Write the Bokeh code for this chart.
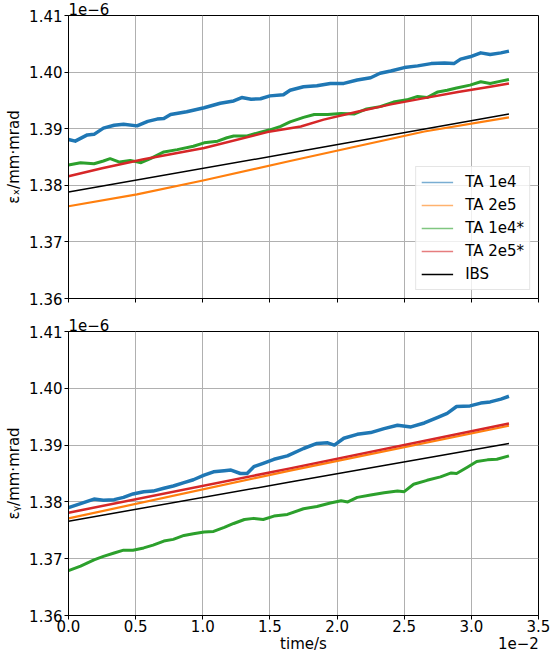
from bokeh.plotting import figure
from bokeh.models import (Range1d, FixedTicker, PrintfTickFormatter, Title, LinearAxis,
                          AllLabels, CustomLabelingPolicy, Legend, LegendItem)
from bokeh.layouts import column
from bokeh.embed import file_html
from bokeh.resources import INLINE

# ---------------- data (x in units of 1e-2 s, y in units of 1e-6 mm·mrad) ----------------
X_TICKS = [0.0, 0.5, 1.0, 1.5, 2.0, 2.5, 3.0, 3.5]
Y_TICKS = [1.36, 1.37, 1.38, 1.39, 1.40, 1.41]
SERIES_NAMES = ["TA 1e4", "TA 2e5", "TA 1e4*", "TA 2e5*", "IBS"]
SERIES_COLORS = ["#1f77b4", "#ff7f0e", "#2ca02c", "#d62728", "black"]
Y_LABELS = ["\u03b5\u2093/mm\u00b7mrad", "\u03b5\u1d67/mm\u00b7mrad"]
OFFSET_Y = "1e\u22126"
X_LABEL = "time/s"
OFFSET_X = "1e\u22122"

# --- horizontal emittance (top panel) ---
ex_ta1e4_t = [0.0, 0.05, 0.14, 0.19, 0.26, 0.34, 0.41, 0.51, 0.59, 0.66, 0.71, 0.76, 0.88,
              1.01, 1.13, 1.23, 1.29, 1.36, 1.43, 1.50, 1.60, 1.65, 1.75, 1.85, 1.95, 2.05,
              2.15, 2.25, 2.32, 2.40, 2.50, 2.60, 2.70, 2.80, 2.87, 2.92, 2.99, 3.07, 3.14,
              3.22, 3.28]
ex_ta1e4 = [1.3881, 1.3878, 1.3889, 1.3890, 1.3901, 1.3906, 1.3908, 1.3905, 1.3913, 1.3917,
            1.3918, 1.3925, 1.3930, 1.3937, 1.3945, 1.3949, 1.3955, 1.3952, 1.3953, 1.3958,
            1.3960, 1.3968, 1.3974, 1.3976, 1.3980, 1.3980, 1.3986, 1.3990, 1.3998, 1.4002,
            1.4008, 1.4011, 1.4015, 1.4016, 1.4015, 1.4023, 1.4027, 1.4034, 1.4031, 1.4034,
            1.4037]

ex_ta2e5_t = [0.0, 0.51, 1.01, 1.65, 2.15, 2.65, 3.28]
ex_ta2e5 = [1.3763, 1.3784, 1.3809, 1.3843, 1.3869, 1.3895, 1.3920]

ex_ta1e4s_t = [0.0, 0.09, 0.19, 0.26, 0.31, 0.38, 0.46, 0.54, 0.61, 0.71, 0.81, 0.93, 1.01,
               1.11, 1.18, 1.23, 1.33, 1.43, 1.50, 1.58, 1.65, 1.75, 1.83, 1.93, 2.03, 2.13,
               2.22, 2.32, 2.42, 2.52, 2.60, 2.67, 2.75, 2.82, 2.89, 2.99, 3.07, 3.14, 3.22,
               3.28]
ex_ta1e4s = [1.3836, 1.3840, 1.3838, 1.3843, 1.3847, 1.3841, 1.3844, 1.3840, 1.3847, 1.3859,
             1.3863, 1.3869, 1.3875, 1.3878, 1.3884, 1.3887, 1.3887, 1.3894, 1.3898, 1.3904,
             1.3912, 1.3920, 1.3925, 1.3925, 1.3927, 1.3926, 1.3935, 1.3939, 1.3947, 1.3951,
             1.3957, 1.3955, 1.3965, 1.3968, 1.3972, 1.3977, 1.3983, 1.3980, 1.3984, 1.3987]

ex_ta2e5s_t = [0.0, 0.25, 0.56, 1.01, 1.48, 1.73, 1.90, 2.15, 2.40, 2.65, 2.90, 3.14, 3.28]
ex_ta2e5s = [1.3816, 1.3830, 1.3846, 1.3866, 1.3894, 1.3904, 1.3916, 1.3930, 1.3943, 1.3954,
             1.3965, 1.3974, 1.3980]

ex_ibs_t = [0.0, 1.65, 3.28]
ex_ibs = [1.3788, 1.3857, 1.3926]

# --- vertical emittance (bottom panel) ---
ey_ta1e4_t = [0.0, 0.09, 0.19, 0.26, 0.34, 0.41, 0.48, 0.56, 0.63, 0.71, 0.78, 0.86, 0.93,
              1.01, 1.08, 1.16, 1.21, 1.28, 1.33, 1.38, 1.45, 1.53, 1.63, 1.75, 1.85, 1.93,
              1.98, 2.05, 2.15, 2.25, 2.35, 2.45, 2.55, 2.65, 2.75, 2.82, 2.89, 2.99, 3.07,
              3.14, 3.22, 3.28]
ey_ta1e4 = [1.3790, 1.3797, 1.3805, 1.3803, 1.3804, 1.3808, 1.3814, 1.3818, 1.3819, 1.3824,
            1.3828, 1.3834, 1.3839, 1.3847, 1.3853, 1.3855, 1.3856, 1.3850, 1.3850, 1.3862,
            1.3868, 1.3875, 1.3881, 1.3894, 1.3903, 1.3904, 1.3900, 1.3912, 1.3919, 1.3922,
            1.3929, 1.3935, 1.3932, 1.3939, 1.3949, 1.3956, 1.3968, 1.3969, 1.3974, 1.3976,
            1.3981, 1.3986]

ey_ta2e5_t = [0.0, 1.65, 3.28]
ey_ta2e5 = [1.3771, 1.3855, 1.3934]

ey_ta1e4s_t = [0.0, 0.09, 0.19, 0.26, 0.34, 0.41, 0.48, 0.56, 0.63, 0.71, 0.78, 0.86, 0.93,
               1.01, 1.08, 1.16, 1.23, 1.31, 1.38, 1.45, 1.53, 1.63, 1.75, 1.85, 1.95, 2.03,
               2.08, 2.15, 2.25, 2.35, 2.45, 2.50, 2.57, 2.67, 2.77, 2.85, 2.89, 2.97, 3.04,
               3.12, 3.19, 3.28]
ey_ta1e4s = [1.3679, 1.3687, 1.3698, 1.3704, 1.3710, 1.3715, 1.3715, 1.3719, 1.3724, 1.3731,
             1.3734, 1.3741, 1.3744, 1.3747, 1.3748, 1.3755, 1.3762, 1.3769, 1.3771, 1.3769,
             1.3775, 1.3778, 1.3788, 1.3792, 1.3798, 1.3802, 1.3800, 1.3808, 1.3812, 1.3816,
             1.3819, 1.3818, 1.3831, 1.3838, 1.3844, 1.3851, 1.3850, 1.3861, 1.3871, 1.3874,
             1.3875, 1.3881]

ey_ta2e5s_t = [0.0, 1.65, 3.28]
ey_ta2e5s = [1.3781, 1.3859, 1.3938]

ey_ibs_t = [0.0, 1.65, 3.28]
ey_ibs = [1.3766, 1.3835, 1.3903]

# ---------------- styling ----------------
FONT = "DejaVu Sans"
FS = "15px"
WIDTHS = [3.5, 2.2, 3.0, 2.5, 1.5]


def make_fig(height, top, bottom, show_xlabels, ylabel):
    p = figure(width=550, height=height, output_backend="svg", toolbar_location=None,
               x_range=Range1d(0, 3.5), y_range=Range1d(1.36, 1.41),
               min_border_left=68, min_border_right=12,
               min_border_top=top, min_border_bottom=bottom)
    p.title = Title(text=OFFSET_Y, align="left", offset=0, standoff=1, text_font=FONT,
                    text_font_size=FS, text_font_style="normal", text_color="black")
    p.background_fill_color = "white"
    p.border_fill_color = "white"
    p.outline_line_color = "black"
    p.outline_line_width = 1
    p.xaxis.ticker = FixedTicker(ticks=X_TICKS)
    p.yaxis.ticker = FixedTicker(ticks=Y_TICKS)
    p.xaxis.formatter = PrintfTickFormatter(format="%.1f")
    p.yaxis.formatter = PrintfTickFormatter(format="%.2f")
    for ax in (p.xaxis, p.yaxis):
        ax.axis_line_color = "black"
        ax.major_tick_line_color = "black"
        ax.major_tick_out = 4
        ax.major_tick_in = 0
        ax.minor_tick_out = 0
        ax.minor_tick_in = 0
        ax.major_label_text_font = FONT
        ax.major_label_text_font_size = FS
        ax.major_label_text_color = "black"
    p.xaxis.major_label_standoff = 0
    p.yaxis.major_label_standoff = 2
    p.yaxis.axis_label = ylabel
    p.yaxis.axis_label_text_font = FONT
    p.yaxis.axis_label_text_font_size = FS
    p.yaxis.axis_label_text_font_style = "normal"
    p.yaxis.axis_label_text_color = "black"
    p.yaxis.axis_label_standoff = 3
    if not show_xlabels:
        p.xaxis.major_label_text_font_size = "1px"
        p.xaxis.major_label_policy = CustomLabelingPolicy(code="return []")
    for g in (p.xgrid, p.ygrid):
        g.grid_line_color = "#b0b0b0"
        g.grid_line_width = 1
    return p


p1 = make_fig(312, 13, 14, False, Y_LABELS[0])
p2 = make_fig(345, 19, 42, True, Y_LABELS[1])

top_data = [(ex_ta1e4_t, ex_ta1e4), (ex_ta2e5_t, ex_ta2e5), (ex_ta1e4s_t, ex_ta1e4s),
            (ex_ta2e5s_t, ex_ta2e5s), (ex_ibs_t, ex_ibs)]
bot_data = [(ey_ta1e4_t, ey_ta1e4), (ey_ta2e5_t, ey_ta2e5), (ey_ta1e4s_t, ey_ta1e4s),
            (ey_ta2e5s_t, ey_ta2e5s), (ey_ibs_t, ey_ibs)]

for p, data in ((p1, top_data), (p2, bot_data)):
    for (xs, ys), c, w in zip(data, SERIES_COLORS, WIDTHS):
        p.line(xs, ys, line_color=c, line_width=w, line_join="round")

# legend (top panel): lighter sample lines, drawn from series kept outside the view
items = []
for name, c, (xs, ys) in zip(SERIES_NAMES, SERIES_COLORS, top_data):
    r = p1.line([x - 10 for x in xs], ys, line_color=c, line_width=1.5,
                line_alpha=(1.0 if c == "black" else 0.6))
    items.append(LegendItem(label=name, renderers=[r]))
legend = Legend(items=items, location="bottom_right", margin=8, padding=5, spacing=3,
                glyph_width=32, glyph_height=20, label_height=20, label_standoff=12,
                label_text_font=FONT, label_text_font_size=FS, label_text_color="black",
                border_line_color="#cccccc", border_line_width=1,
                background_fill_color="white", background_fill_alpha=0.8)
p1.add_layout(legend)

# x axis label row ("time/s" centred, offset text at the right end)
lab_axis = LinearAxis(ticker=FixedTicker(ticks=[1.75, 3.35]),
                      major_label_overrides={1.75: X_LABEL, 3.35: OFFSET_X},
                      major_label_policy=AllLabels(),
                      axis_line_color=None, major_tick_line_color=None,
                      minor_tick_line_color=None, major_tick_out=0, major_tick_in=0,
                      minor_tick_out=0, minor_tick_in=0, major_label_standoff=0,
                      major_label_text_font=FONT, major_label_text_font_size=FS,
                      major_label_text_color="black")
p2.add_layout(lab_axis, "below")

layout = column(p1, p2, spacing=0)
open("out.html", "w").write(file_html(layout, INLINE))
